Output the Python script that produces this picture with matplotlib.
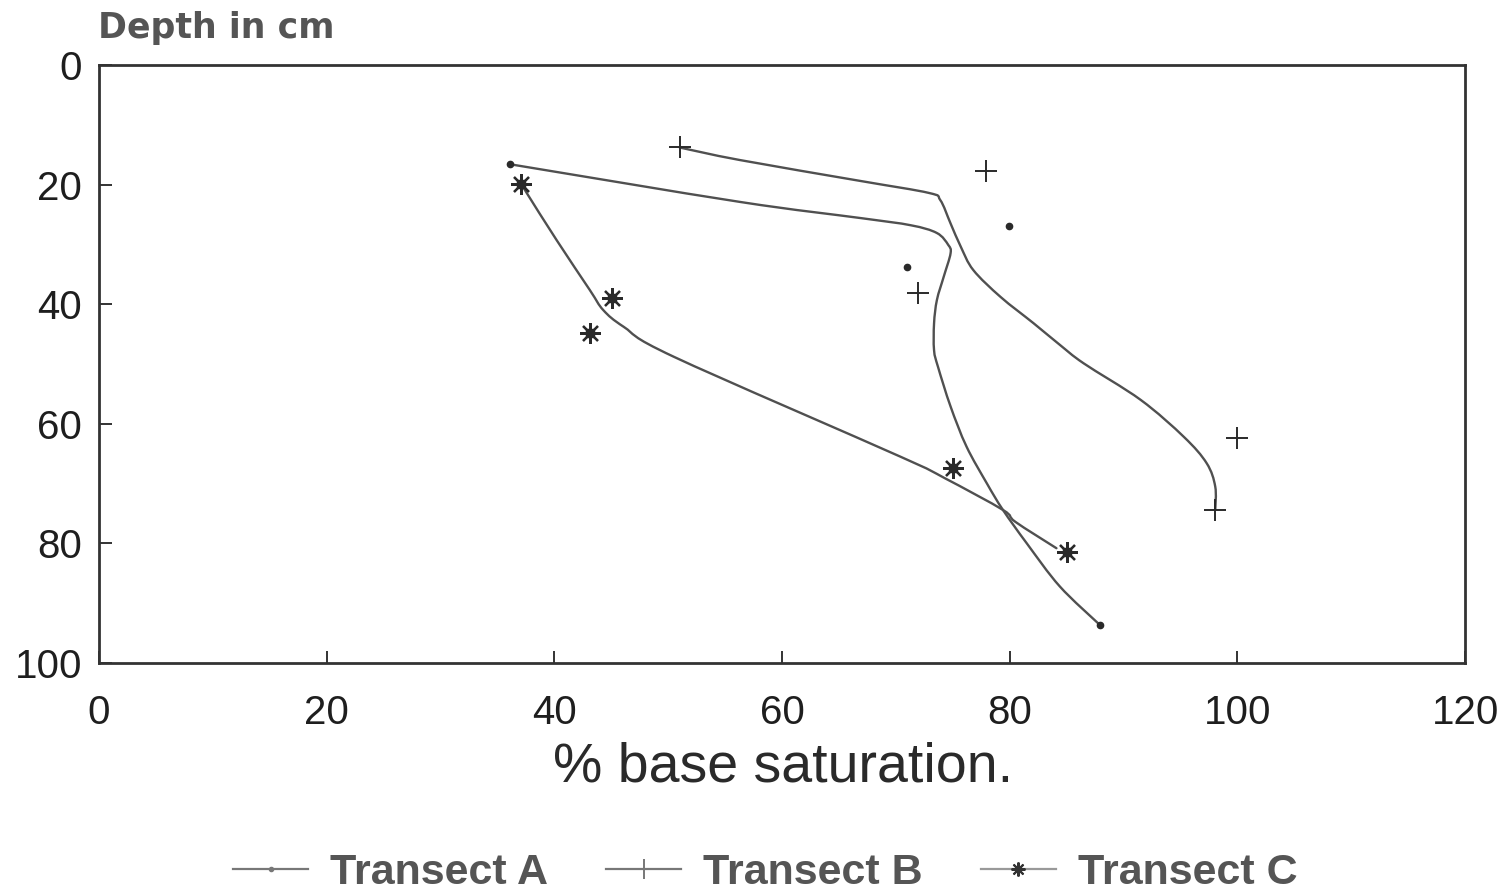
import matplotlib
matplotlib.use("Agg")
import matplotlib.pyplot as plt
from matplotlib.lines import Line2D
from matplotlib.path import Path
from matplotlib.patches import PathPatch

plt.rcParams['font.family'] = ['Liberation Sans', 'DejaVu Sans']

# ---- Data ----
# Measured samples: % base saturation (x) vs depth in cm (y)
a_sat = [36.1, 79.9, 71.0, 87.9]
a_depth = [16.6, 26.9, 33.7, 93.6]

b_sat = [51.0, 77.9, 71.9, 100.0, 98.0]
b_depth = [13.8, 17.8, 38.1, 62.4, 74.4]

c_sat = [37.1, 45.1, 43.1, 75.0, 85.0]
c_depth = [19.9, 39.0, 44.9, 67.4, 81.4]

# Hand-drawn fitted curves
a_curve_sat = [36.1, 56.3, 66.9, 71.3, 73.6, 74.6, 74.8, 74.2, 73.6, 73.35, 73.35,
               73.7, 74.8, 76.2, 78.0, 79.4, 81.5, 84.4, 87.9]
a_curve_depth = [16.6, 22.9, 25.6, 26.8, 28.1, 30.1, 31.5, 35.4, 39.3, 43.2, 47.7,
                 50.5, 57.1, 63.8, 70.0, 74.4, 80.0, 87.2, 93.6]

b_curve_sat = [51.0, 56.3, 66.9, 72.9, 73.9, 74.8, 75.7, 76.8, 79.2, 82.1, 84.4,
               86.5, 91.5, 95.3, 97.3, 98.05, 98.05]
b_curve_depth = [13.8, 15.9, 19.4, 21.4, 22.6, 26.5, 30.4, 34.3, 38.8, 43.2, 46.8,
                 49.9, 56.0, 62.2, 66.6, 70.5, 74.4]

c_curve_sat = [37.1, 37.6, 40.2, 43.1, 44.3, 46.1, 50.5, 70.4, 74.3, 79.4,
               80.5, 84.1]
c_curve_depth = [19.9, 21.5, 29.3, 37.6, 41.0, 43.8, 48.8, 65.5, 69.1, 74.4,
                 76.4, 80.8]

x_ticks = [0, 20, 40, 60, 80, 100, 120]
y_ticks = [0, 20, 40, 60, 80, 100]
legend_labels = ["Transect A", "Transect B", "Transect C"]


def smooth_path(xs, ys, ax):
    """Bezier path through the traced points (rendered in display space)."""
    pts = [ax.transData.transform((x, y)) for x, y in zip(xs, ys)]
    n = len(pts)
    verts = [pts[0]]
    codes = [Path.MOVETO]
    for i in range(n - 1):
        p0 = pts[i - 1] if i > 0 else pts[i]
        p1 = pts[i]
        p2 = pts[i + 1]
        p3 = pts[i + 2] if i + 2 < n else pts[i + 1]
        c1 = p1 + (p2 - p0) / 6.0
        c2 = p2 - (p3 - p1) / 6.0
        verts += [c1, c2, p2]
        codes += [Path.CURVE4] * 3
    return Path(verts, codes)


# ---- Figure ----
fig = plt.figure(figsize=(15.12, 8.96), dpi=100)
ax = fig.add_axes([0.0655, 0.26, 0.9035, 0.6675])
ax.set_xlim(0, 120)
ax.set_ylim(100, 0)

line_col = '#505050'
mark_col = '#2a2a2a'
lw = 1.7

for xs, ys in [(a_curve_sat, a_curve_depth), (b_curve_sat, b_curve_depth),
               (c_curve_sat, c_curve_depth)]:
    patch = PathPatch(smooth_path(xs, ys, ax), facecolor='none', edgecolor=line_col,
                      lw=lw, transform=None, capstyle='round', joinstyle='round')
    ax.add_artist(patch)

ax.plot(a_sat, a_depth, linestyle='none', marker='o', ms=4.5, color=mark_col)
ax.plot(b_sat, b_depth, linestyle='none', marker='+', ms=16, mew=1.4, color=mark_col)
ax.plot(c_sat, c_depth, linestyle='none', marker=(8, 2, 0), ms=15, mew=1.6, color=mark_col)
ax.plot(c_sat, c_depth, linestyle='none', marker='s', ms=6, color=mark_col)

ax.set_xticks(x_ticks)
ax.set_yticks(y_ticks)
ax.set_xticklabels([str(v) for v in x_ticks])
ax.set_yticklabels([str(v) for v in y_ticks])
ax.tick_params(axis='both', direction='in', length=9, width=1.4, colors='#333333',
               labelsize=29, labelcolor='#1e1e1e')
ax.tick_params(axis='x', pad=22)
ax.tick_params(axis='y', pad=12)
for s in ax.spines.values():
    s.set_linewidth(2)
    s.set_color('#333333')

fig.text(0.065, 0.969, "Depth in cm", fontsize=25, fontweight='bold',
         family=['DejaVu Sans'], color='#555555', ha='left', va='center')
fig.text(0.518, 0.143, "% base saturation.", fontsize=40, color='#2a2a2a',
         ha='center', va='center')

handles = [
    Line2D([], [], color='#777777', lw=1.6, marker='o', ms=3, markerfacecolor='#777777'),
    Line2D([], [], color='#777777', lw=1.6, marker='+', ms=14, mew=1.4),
    Line2D([], [], color='#999999', lw=1.6, marker=(8, 2, 0), ms=10, mew=1.5,
           markeredgecolor='#333333'),
]
leg = fig.legend(handles, legend_labels, loc='center', bbox_to_anchor=(0.506, 0.026),
                 ncol=3, frameon=False, handlelength=1.75, handletextpad=0.5,
                 columnspacing=1.35, prop={'family': 'Liberation Sans', 'weight': 'bold',
                                           'size': 31})
for t in leg.get_texts():
    t.set_color('#555555')

fig.savefig("out.png", dpi=100, facecolor='white')
